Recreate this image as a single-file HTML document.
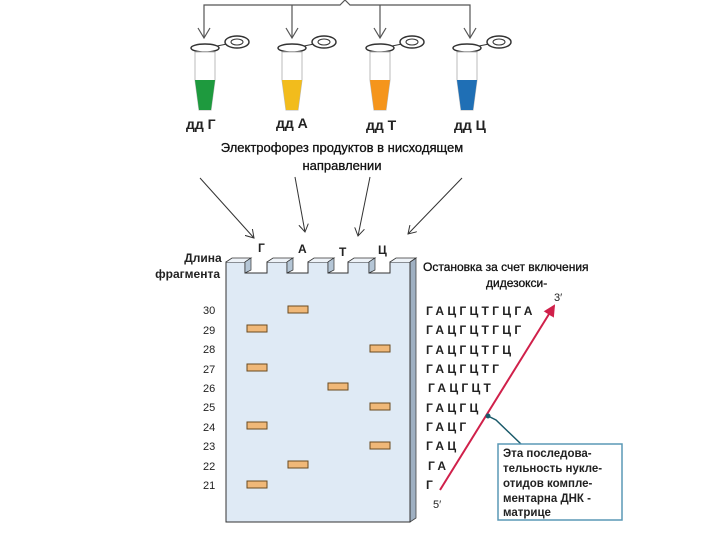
<!DOCTYPE html>
<html><head><meta charset="utf-8"><style>
body{margin:0;background:#fff}
svg{display:block}
text{font-family:"Liberation Sans","DejaVu Sans",sans-serif}
</style></head><body>
<svg width="720" height="540" viewBox="0 0 720 540" xmlns="http://www.w3.org/2000/svg">
<defs>
<marker id="ar" markerWidth="10" markerHeight="10" refX="8" refY="5" orient="auto" markerUnits="userSpaceOnUse"><path d="M0,0 L8,5 L0,10" fill="none" stroke="#333" stroke-width="1"/></marker>
<marker id="rr" markerWidth="12" markerHeight="12" refX="10" refY="6" orient="auto" markerUnits="userSpaceOnUse"><path d="M0,0 L12,6 L0,12 Z" fill="#d0204a"/></marker>
</defs>
<path d="M204,38 V5 H340 L345,0 L350,5 H470 V38 M292,5 V38 M380,5 V38" fill="none" stroke="#555" stroke-width="1.2"/>
<path d="M198,28 L204,38 L210,28 M286,28 L292,38 L298,28 M374,28 L380,38 L386,28 M464,28 L470,38 L476,28" fill="none" stroke="#555" stroke-width="1.2"/>
<g transform="translate(205,0)">
<ellipse cx="0" cy="48" rx="14" ry="4" fill="#fff" stroke="#333" stroke-width="1.5"/><line x1="12" y1="46" x2="22" y2="44" stroke="#333"/><ellipse cx="32" cy="42" rx="12" ry="6" fill="#fff" stroke="#333" stroke-width="1.5"/><ellipse cx="32" cy="42" rx="6" ry="3" fill="none" stroke="#333"/>
<path d="M-10,52 V80 L-6,110 H6 L10,80 V52 Z" fill="#fff" stroke="#bbb"/><path d="M-10,80 L-6,110 H6 L10,80 Z" fill="#1e9a3e"/></g>
<g transform="translate(292,0)">
<ellipse cx="0" cy="48" rx="14" ry="4" fill="#fff" stroke="#333" stroke-width="1.5"/><line x1="12" y1="46" x2="22" y2="44" stroke="#333"/><ellipse cx="32" cy="42" rx="12" ry="6" fill="#fff" stroke="#333" stroke-width="1.5"/><ellipse cx="32" cy="42" rx="6" ry="3" fill="none" stroke="#333"/>
<path d="M-10,52 V80 L-6,110 H6 L10,80 V52 Z" fill="#fff" stroke="#bbb"/><path d="M-10,80 L-6,110 H6 L10,80 Z" fill="#f2bc1c"/></g>
<g transform="translate(380,0)">
<ellipse cx="0" cy="48" rx="14" ry="4" fill="#fff" stroke="#333" stroke-width="1.5"/><line x1="12" y1="46" x2="22" y2="44" stroke="#333"/><ellipse cx="32" cy="42" rx="12" ry="6" fill="#fff" stroke="#333" stroke-width="1.5"/><ellipse cx="32" cy="42" rx="6" ry="3" fill="none" stroke="#333"/>
<path d="M-10,52 V80 L-6,110 H6 L10,80 V52 Z" fill="#fff" stroke="#bbb"/><path d="M-10,80 L-6,110 H6 L10,80 Z" fill="#f5951c"/></g>
<g transform="translate(467,0)">
<ellipse cx="0" cy="48" rx="14" ry="4" fill="#fff" stroke="#333" stroke-width="1.5"/><line x1="12" y1="46" x2="22" y2="44" stroke="#333"/><ellipse cx="32" cy="42" rx="12" ry="6" fill="#fff" stroke="#333" stroke-width="1.5"/><ellipse cx="32" cy="42" rx="6" ry="3" fill="none" stroke="#333"/>
<path d="M-10,52 V80 L-6,110 H6 L10,80 V52 Z" fill="#fff" stroke="#bbb"/><path d="M-10,80 L-6,110 H6 L10,80 Z" fill="#1f6fb5"/></g>
<g font-size="14" font-weight="bold" fill="#222">
<text x="186" y="129">дд Г</text><text x="276" y="128">дд А</text><text x="366" y="130">дд Т</text><text x="454" y="130">дд Ц</text>
</g>
<g font-size="13" fill="#111" text-anchor="middle" stroke="#111" stroke-width="0.3">
<text x="342" y="152">Электрофорез продуктов в нисходящем</text>
<text x="342" y="170">направлении</text>
</g>
<g stroke="#333" stroke-width="1" marker-end="url(#ar)">
<line x1="200" y1="178" x2="254" y2="238"/><line x1="295" y1="177" x2="305" y2="232"/><line x1="370" y1="177" x2="358" y2="236"/><line x1="462" y1="178" x2="408" y2="234"/>
</g>
<g font-size="12" font-weight="bold" fill="#222">
<text x="258" y="252">Г</text><text x="298" y="253">А</text><text x="339" y="256">Т</text><text x="378" y="254">Ц</text>
</g>
<text x="203" y="262" font-size="12" font-weight="bold" fill="#222" text-anchor="middle">Длина</text>
<text x="220" y="278" font-size="12" font-weight="bold" fill="#222" text-anchor="end">фрагмента</text>
<path d="M410,262 L416,258 V518 L410,522 Z" fill="#9fb0c2" stroke="#444" stroke-width="0.8"/>
<path d="M226,262 H245 V273 H267 V262 H287 V273 H308 V262 H328 V273 H348 V262 H369 V273 H390 V262 H410 V522 H226 Z" fill="#dfeaf5" stroke="#333" stroke-width="1"/>
<path d="M226,262 L232,258 H251 L245,262 M267,262 L273,258 H293 L287,262 M308,262 L314,258 H334 L328,262 M348,262 L354,258 H375 L369,262 M390,262 L396,258 H416 L410,262" fill="#eef3f8" stroke="#333" stroke-width="0.8"/>
<g fill="#b5c6d6" stroke="#333" stroke-width="0.7"><path d="M245,262 L251,258 V270 L245,273Z"/><path d="M287,262 L293,258 V270 L287,273Z"/><path d="M328,262 L334,258 V270 L328,273Z"/><path d="M369,262 L375,258 V270 L369,273Z"/></g>
<g fill="#f0b878" stroke="#6a4a20" stroke-width="1">
<rect x="288" y="306" width="20" height="7"/><rect x="247" y="325" width="20" height="7"/><rect x="370" y="345" width="20" height="7"/><rect x="247" y="364" width="20" height="7"/><rect x="328" y="383" width="20" height="7"/><rect x="370" y="403" width="20" height="7"/><rect x="247" y="422" width="20" height="7"/><rect x="370" y="442" width="20" height="7"/><rect x="288" y="461" width="20" height="7"/><rect x="247" y="481" width="20" height="7"/>
</g>
<g font-size="11" fill="#222">
<text x="203" y="314">30</text><text x="203" y="334">29</text><text x="203" y="353">28</text><text x="203" y="373">27</text><text x="203" y="392">26</text><text x="203" y="411">25</text><text x="203" y="431">24</text><text x="203" y="450">23</text><text x="203" y="470">22</text><text x="203" y="489">21</text>
</g>
<g font-size="12" fill="#111" stroke="#111" stroke-width="0.3">
<text x="423" y="271">Остановка за счет включения</text>
<text x="486" y="287">дидезокси-</text>
</g>
<g font-size="12" font-weight="bold" fill="#222" letter-spacing="3.3">
<text x="426" y="315">ГАЦГЦТГЦГА</text><text x="426" y="334">ГАЦГЦТГЦГ</text><text x="426" y="354">ГАЦГЦТГЦ</text><text x="426" y="373">ГАЦГЦТГ</text><text x="428" y="392">ГАЦГЦТ</text><text x="426" y="412">ГАЦГЦ</text><text x="426" y="431">ГАЦГ</text><text x="426" y="450">ГАЦ</text><text x="428" y="470">ГА</text><text x="426" y="489">Г</text>
</g>
<line x1="440" y1="490" x2="554" y2="306" stroke="#d0204a" stroke-width="2" marker-end="url(#rr)"/>
<text x="554" y="301" font-size="11" fill="#222">3′</text>
<text x="433" y="508" font-size="11" fill="#222">5′</text>
<path d="M488,416 L496,420 L521,444" fill="none" stroke="#1a5a6a" stroke-width="1.5"/>
<circle cx="488" cy="416" r="2.5" fill="#1a5a6a"/>
<rect x="498" y="444" width="124" height="76" fill="#fff" stroke="#5a98b5" stroke-width="1.5"/>
<g font-size="11.5" font-weight="bold" fill="#222">
<text x="503" y="457">Эта последова-</text><text x="503" y="472">тельность нукле-</text><text x="503" y="487">отидов компле-</text><text x="503" y="502">ментарна ДНК -</text><text x="503" y="516">матрице</text>
</g>
</svg>
</body></html>
